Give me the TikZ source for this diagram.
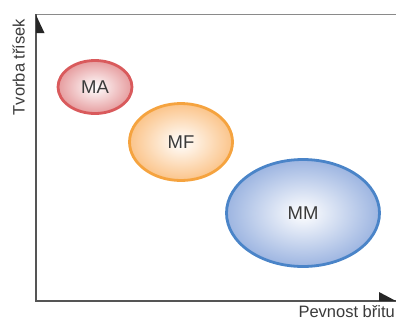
\documentclass[tikz,border=0pt]{standalone}
\usepackage{fontspec}
\setmainfont{Liberation Sans}
\usetikzlibrary{shapes.geometric}

\definecolor{axisgray}{HTML}{555555}
\definecolor{framegray}{HTML}{8A8A8A}
\definecolor{textgray}{HTML}{3A3A3A}
\definecolor{maline}{HTML}{D95A5C}
\definecolor{mafill}{HTML}{E69C9E}
\definecolor{mfline}{HTML}{F5A33F}
\definecolor{mffill}{HTML}{FBC48A}
\definecolor{mmline}{HTML}{4A84C8}
\definecolor{mmfill}{HTML}{9DB5E1}

\tikzset{
    group/.style = {ellipse, line width = 2.8pt, inner sep = 0pt, text = textgray, font = \fontsize{18.5}{19}\selectfont},
    axislabel/.style = {text = textgray, font = \fontsize{16.5}{17}\selectfont, inner sep = 0pt}
}

\begin{document}
\begin{tikzpicture}[x = 1pt, y = -1pt]
    \useasboundingbox (0, 0) rectangle (396, 322);

    % frame and axes
    \coordinate (origin) at (36, 301);
    \coordinate (ytop) at (36, 14);
    \coordinate (xend) at (396, 301);
    \draw[framegray, line width = 0.8pt] (ytop) -- (396, 14);
    \draw[axisgray, line width = 1.5pt] (ytop) -- (origin) -- (xend);
    \fill[black!85] (36, 15) -- (36, 33) -- (44.5, 33) -- cycle;
    \fill[black!85] (379, 292) -- (379, 301) -- (396, 301) -- cycle;

    \node[axislabel, rotate = 90, anchor = south] (ylabel) at (25, 67) {Tvorba třísek};
    \node[axislabel, anchor = north east] (xlabel) at (395, 305.5) {Pevnost břitu};

    % tool groups
    \node[group, draw = maline, inner color = white, outer color = mafill, minimum width = 74pt, minimum height = 53pt] (ma) at (95, 87) {MA};
    \node[group, draw = mfline, inner color = white, outer color = mffill, minimum width = 103pt, minimum height = 77pt] (mf) at (181, 142) {MF};
    \node[group, draw = mmline, inner color = white, outer color = mmfill, minimum width = 153pt, minimum height = 107pt] (mm) at (303, 213) {MM};
\end{tikzpicture}
\end{document}
